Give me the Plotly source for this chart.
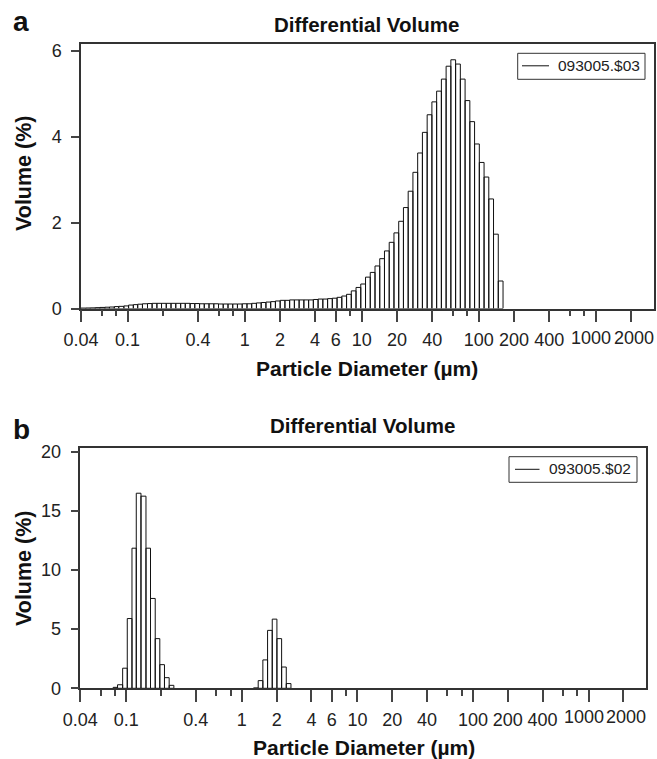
import math
import plotly.graph_objects as go

# Channel edges (µm) of the particle size analyser (116 channels, 0.04 - 2000 µm)
edges = [0.040, 0.044, 0.048, 0.053, 0.058, 0.064, 0.070, 0.077, 0.084, 0.093,
         0.102, 0.112, 0.122, 0.134, 0.148, 0.162, 0.178, 0.195, 0.214, 0.235,
         0.258, 0.284, 0.311, 0.342, 0.375, 0.412, 0.452, 0.496, 0.545, 0.598,
         0.656, 0.721, 0.791, 0.868, 0.953, 1.047, 1.149, 1.261, 1.385, 1.520,
         1.669, 1.832, 2.011, 2.208, 2.423, 2.660, 2.920, 3.206, 3.519, 3.863,
         4.241, 4.656, 5.111, 5.611, 6.159, 6.761, 7.422, 8.148, 8.944, 9.819,
         10.78, 11.83, 12.99, 14.26, 15.65, 17.18, 18.86, 20.71, 22.73, 24.95,
         27.39, 30.07, 33.01, 36.24, 39.78, 43.67, 47.94, 52.62, 57.77, 63.41,
         69.61, 76.42, 83.89, 92.09, 101.1, 111.0, 121.8, 133.7, 146.8, 161.2,
         176.9, 194.2, 213.2, 234.1, 256.9, 282.1, 309.6, 339.9, 373.1, 409.6,
         449.7, 493.6, 541.9, 594.9, 653.0, 716.9, 786.9, 863.9, 948.3, 1041,
         1143, 1255, 1377, 1512, 1660, 1822, 2000]

# Panel a: 093005.$03 differential volume (%) per channel
volume_a = [
    0.01, 0.012, 0.015, 0.02, 0.025, 0.03, 0.035, 0.045, 0.05, 0.06,
    0.08, 0.09, 0.10, 0.11, 0.115, 0.12, 0.12, 0.12, 0.12, 0.12,
    0.12, 0.12, 0.12, 0.115, 0.115, 0.11, 0.11, 0.11, 0.11, 0.105,
    0.105, 0.105, 0.105, 0.105, 0.11, 0.11, 0.12, 0.13, 0.14, 0.15,
    0.16, 0.175, 0.19, 0.19, 0.2, 0.2, 0.2, 0.2, 0.2, 0.21,
    0.22, 0.22, 0.23, 0.24, 0.26, 0.29, 0.33, 0.41, 0.49, 0.57,
    0.73, 0.84, 0.99, 1.16, 1.34, 1.54, 1.76, 2.03, 2.35, 2.73,
    3.17, 3.62, 4.10, 4.51, 4.81, 5.06, 5.34, 5.64, 5.79, 5.69,
    5.34, 4.84, 4.35, 3.83, 3.40, 3.06, 2.55, 1.73, 0.64, 0,
    0, 0, 0, 0, 0, 0, 0, 0, 0, 0,
    0, 0, 0, 0, 0, 0, 0, 0, 0, 0,
    0, 0, 0, 0, 0, 0,
]

# Panel b: 093005.$02 differential volume (%) per channel
volume_b = [
    0, 0, 0, 0, 0, 0, 0, 0.08, 0.3, 1.7,
    5.9, 11.85, 16.5, 16.25, 11.85, 7.6, 4.2, 2.0, 0.9, 0.25,
    0, 0, 0, 0, 0, 0, 0, 0, 0, 0,
    0, 0, 0, 0, 0, 0, 0, 0.03, 0.65, 2.4,
    4.9, 5.85, 4.2, 1.8, 0.4, 0, 0, 0, 0, 0,
    0, 0, 0, 0, 0, 0, 0, 0, 0, 0,
    0, 0, 0, 0, 0, 0, 0, 0, 0, 0,
    0, 0, 0, 0, 0, 0, 0, 0, 0, 0,
    0, 0, 0, 0, 0, 0, 0, 0, 0, 0,
    0, 0, 0, 0, 0, 0, 0, 0, 0, 0,
    0, 0, 0, 0, 0, 0, 0, 0, 0, 0,
    0, 0, 0, 0, 0, 0,
]

# x tick labels; the last two are nudged apart like in the original figure
major_ticks = [0.04, 0.1, 0.4, 1, 2, 4, 6, 10, 20, 40, 100, 200, 400]
major_labels = ["0.04", "0.1", "0.4", "1", "2", "4", "6", "10", "20", "40",
                "100", "200", "400"]
end_ticks = [1000, 2000]
end_labels = ["1000", "2000"]
end_shift = [-5, 3]
minor_ticks = [0.06, 0.08, 0.2, 0.6, 0.8, 8, 60, 80, 600, 800]

legend_a = "093005.$03"
legend_b = "093005.$02"

FONT = "Liberation Sans, Arial, sans-serif"
INK = "#222"
W, H = 657, 759
TICKSIZE = 18


def bar_paths(edge_list, values):
    xs, ys = [], []
    for i, v in enumerate(values):
        if v <= 0:
            continue
        x0, x1 = edge_list[i], edge_list[i + 1]
        xs += [x0, x0, x1, x1, x0, None]
        ys += [0, v, v, 0, 0, None]
    return xs, ys


fig = go.Figure()

for vals, xa, ya in [(volume_a, "x", "y"), (volume_b, "x2", "y2")]:
    bx, by = bar_paths(edges, vals)
    fig.add_trace(go.Scatter(x=bx, y=by, mode="lines", fill="toself",
                             fillcolor="white", line=dict(color="#111", width=1),
                             xaxis=xa, yaxis=ya, showlegend=False, hoverinfo="skip"))

xr = [math.log10(0.04), 3.497]


def xaxis_cfg(domain, anchor):
    return dict(type="log", range=xr, domain=domain, anchor=anchor,
                automargin=False,
                tickmode="array", tickvals=major_ticks + end_ticks,
                ticktext=major_labels + ["", ""],
                tickangle=0,
                ticks="outside", ticklen=12, tickwidth=1.5, tickcolor="#444",
                showline=True, mirror=True, linecolor="#333", linewidth=1.5,
                showgrid=False, zeroline=False,
                tickfont=dict(family=FONT, size=TICKSIZE, color=INK),
                ticklabelstandoff=2,
                minor=dict(tickmode="array", tickvals=minor_ticks, ticks="outside",
                           ticklen=6, tickwidth=1.5, tickcolor="#444", showgrid=False))


def yaxis_cfg(domain, anchor, rng, tv):
    return dict(range=rng, domain=domain, anchor=anchor,
                automargin=False,
                tickmode="array", tickvals=tv,
                ticks="outside", ticklen=8, tickwidth=1.5, tickcolor="#444",
                showline=True, mirror=True, linecolor="#333", linewidth=1.5,
                showgrid=False, zeroline=False, ticklabelstandoff=6,
                tickfont=dict(family=FONT, size=TICKSIZE, color=INK))


fig.update_layout(
    width=W, height=H, margin=dict(l=0, r=0, t=0, b=0, autoexpand=False),
    paper_bgcolor="white", plot_bgcolor="white",
    font=dict(family=FONT, color=INK),
    showlegend=False,
    xaxis=xaxis_cfg([81 / W, 654 / W], "y"),
    yaxis=yaxis_cfg([1 - 308.5 / H, 1 - 44.3 / H], "x", [0, 6.15], [0, 2, 4, 6]),
    xaxis2=xaxis_cfg([80.3 / W, 646 / W], "y2"),
    yaxis2=yaxis_cfg([1 - 688.3 / H, 1 - 447.7 / H], "x2", [0, 20.35], [0, 5, 10, 15, 20]),
)

# the two crowded end labels, placed at their tick values through the x axes
for xref, label_y in [("x", 337.5), ("x2", 717.0)]:
    for val, lab, sh in zip(end_ticks, end_labels, end_shift):
        fig.add_annotation(text=lab, x=math.log10(val), xref=xref,
                           y=1 - label_y / H, yref="paper",
                           xanchor="center", yanchor="middle", xshift=sh,
                           showarrow=False,
                           font=dict(family=FONT, size=TICKSIZE, color=INK))

ann = [
    ("<b>a</b>", 21.3, 21.8, 28, 0),
    ("<b>b</b>", 21.3, 429.5, 28, 0),
    ("<b>Differential Volume</b>", 366.4, 24.3, 20.5, 0),
    ("<b>Differential Volume</b>", 362.2, 425.0, 20.5, 0),
    ("<b>Particle Diameter (µm)</b>", 367.0, 368.3, 21, 0),
    ("<b>Particle Diameter (µm)</b>", 363.7, 747.5, 21, 0),
    ("<b>Volume (%)</b>", 24.5, 173.5, 21.5, -90),
    ("<b>Volume (%)</b>", 24.0, 569.0, 21.5, -90),
]
for text, px, py, size, rot in ann:
    fig.add_annotation(text=text, x=px / W, y=1 - py / H, xref="paper", yref="paper",
                       xanchor="center", yanchor="middle", showarrow=False,
                       textangle=rot, font=dict(family=FONT, size=size, color="#111"))

# Legend boxes (frame, sample line, series name), one per panel
for name, (bx0, bx1, by0, by1), (lx0, lx1, ly), (tx, ty) in [
        (legend_a, (517.7, 645, 53.3, 79.3), (522, 549, 65.8), (599.2, 66.0)),
        (legend_b, (509, 637, 456.7, 482.3), (515, 539.5, 469.3), (590.0, 468.5))]:
    fig.add_shape(type="rect", xref="paper", yref="paper",
                  x0=bx0 / W, x1=bx1 / W, y0=1 - by1 / H, y1=1 - by0 / H,
                  line=dict(color="#333", width=1), fillcolor="white")
    fig.add_shape(type="line", xref="paper", yref="paper",
                  x0=lx0 / W, x1=lx1 / W, y0=1 - ly / H, y1=1 - ly / H,
                  line=dict(color="#111", width=1))
    fig.add_annotation(text=name, x=tx / W, y=1 - ty / H, xref="paper", yref="paper",
                       xanchor="center", yanchor="middle", showarrow=False,
                       font=dict(family=FONT, size=15.5, color=INK))

fig.write_html("out.html")
